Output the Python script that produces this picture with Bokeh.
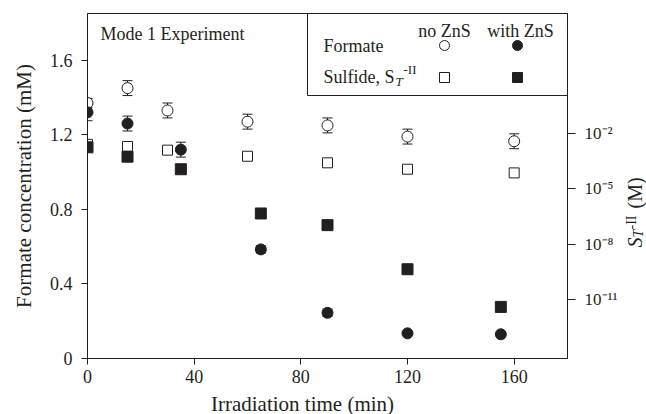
import math
from bokeh.plotting import figure
from bokeh.layouts import row, column
from bokeh.models import (Range1d, LogScale, LogAxis, FixedTicker, Whisker, TeeHead,
                          ColumnDataSource, Label, BoxAnnotation, CustomJSTickFormatter)
from bokeh.embed import file_html
from bokeh.resources import INLINE

# ---------------- data ----------------
time_no_zns = [0, 15, 30, 60, 90, 120, 160]
formate_no_zns = [1.37, 1.45, 1.33, 1.27, 1.25, 1.19, 1.165]
formate_no_zns_err = [0.025, 0.04, 0.04, 0.04, 0.04, 0.04, 0.04]
sulfide_no_zns = [2.6e-3, 2.0e-3, 1.26e-3, 5.9e-4, 2.6e-4, 1.17e-4, 7.4e-5]

time_zns = [0, 15, 35, 65, 90, 120, 155]
formate_zns = [1.32, 1.26, 1.12, 0.585, 0.245, 0.135, 0.13]
formate_zns_err = [0.045, 0.04, 0.04, 0.02, 0.02, 0.01, 0.01]
sulfide_zns = [1.8e-3, 5.6e-4, 1.17e-4, 4.7e-7, 1.1e-7, 4.5e-10, 4.1e-12]

x_ticks = [0, 40, 80, 120, 160]
y_ticks = [0, 0.4, 0.8, 1.2, 1.6]
s_ticks = [1e-2, 1e-5, 1e-8, 1e-11]

FONT = "Liberation Serif"
INK = "#231f20"

# ---------------- layout sizes ----------------
W, H = 646, 414
MAIN_W, MAIN_H = 622, 390          # main figure; right strip and bottom strip hold titles
FR_L, FR_R, FR_T, FR_B = 87, 567, 13, 358   # frame edges in page pixels
L, R, T, B = FR_L, MAIN_W - FR_R, FR_T, MAIN_H - FR_B
X0, X1 = 0, 180
Y0, Y1 = 0, 1.85

p = figure(width=MAIN_W, height=MAIN_H, output_backend="svg", toolbar_location=None,
           x_range=Range1d(X0, X1), y_range=Range1d(Y0, Y1),
           min_border_left=L, min_border_right=R, min_border_top=T, min_border_bottom=B,
           background_fill_color="white", border_fill_color="white")
p.extra_y_ranges = {"s": Range1d(10 ** -14.18, 10 ** 4.5)}
p.extra_y_scales = {"s": LogScale()}
p.xgrid.visible = False
p.ygrid.visible = False
p.outline_line_color = INK
p.outline_line_width = 1
p.outline_line_alpha = 1

fw, fh = FR_R - FR_L, FR_B - FR_T


def px2x(px):
    return X0 + (px - FR_L) * (X1 - X0) / fw


def py2y(py):
    return Y0 + (FR_B - py) * (Y1 - Y0) / fh


def style_axis(ax, out):
    ax.axis_line_color = INK
    ax.major_tick_line_color = INK
    ax.major_tick_in = 0
    ax.major_tick_out = out
    ax.minor_tick_line_color = None
    ax.major_label_text_font = FONT
    ax.major_label_text_color = INK
    ax.major_label_text_font_size = "18px"


p.xaxis.ticker = FixedTicker(ticks=x_ticks)
p.yaxis.ticker = FixedTicker(ticks=y_ticks)
style_axis(p.xaxis[0], 6)
style_axis(p.yaxis[0], 6)
p.xaxis.major_label_standoff = 5
p.yaxis.major_label_standoff = 9
p.yaxis.axis_label = "Formate concentration (mM)"
p.yaxis.axis_label_text_font = FONT
p.yaxis.axis_label_text_font_style = "normal"
p.yaxis.axis_label_text_font_size = "21px"
p.yaxis.axis_label_text_color = INK
p.yaxis.axis_label_standoff = 11

sup_js = """
const sup = {"-":"\u207b","0":"\u2070","1":"\u00b9","2":"\u00b2","3":"\u00b3","4":"\u2074",
             "5":"\u2075","6":"\u2076","7":"\u2077","8":"\u2078","9":"\u2079"};
const e = Math.round(Math.log10(tick));
return "10" + String(e).split("").map(c => sup[c]).join("");
"""
raxis = LogAxis(y_range_name="s", ticker=FixedTicker(ticks=s_ticks),
                formatter=CustomJSTickFormatter(code=sup_js))
style_axis(raxis, 8)
raxis.major_label_text_font_size = "17px"
raxis.major_label_standoff = 9
p.add_layout(raxis, "right")

# ---------------- data marks ----------------
src_no = ColumnDataSource(dict(
    t=time_no_zns, f=formate_no_zns,
    up=[v + e for v, e in zip(formate_no_zns, formate_no_zns_err)],
    lo=[v - e for v, e in zip(formate_no_zns, formate_no_zns_err)],
    s=sulfide_no_zns))
src_z = ColumnDataSource(dict(
    t=time_zns, f=formate_zns,
    up=[v + e for v, e in zip(formate_zns, formate_zns_err)],
    lo=[v - e for v, e in zip(formate_zns, formate_zns_err)],
    s=sulfide_zns))

for src in (src_no, src_z):
    p.add_layout(Whisker(source=src, base="t", upper="up", lower="lo", dimension="height",
                         line_color=INK, line_width=1,
                         upper_head=TeeHead(size=10, line_color=INK, line_width=1),
                         lower_head=TeeHead(size=10, line_color=INK, line_width=1)))

p.scatter("t", "s", source=src_no, y_range_name="s", marker="square", size=10,
          fill_color="white", line_color=INK, line_width=1)
p.scatter("t", "f", source=src_no, marker="circle", size=11,
          fill_color="white", line_color=INK, line_width=1)
p.scatter("t", "s", source=src_z, y_range_name="s", marker="square", size=11,
          fill_color=INK, line_color=INK)
p.scatter("t", "f", source=src_z, marker="circle", size=11,
          fill_color=INK, line_color=INK)

# ---------------- legend box (hand-built table) ----------------
p.add_layout(BoxAnnotation(left=px2x(307), right=px2x(567), bottom=py2y(95), top=py2y(13),
                           fill_color=None, line_color=INK, line_width=1, line_alpha=1))


def lab(fig, x, y, text, size="18px", align="left", angle=0, style="normal"):
    fig.add_layout(Label(x=x, y=y, text=text, text_font=FONT,
                         text_font_size=size, text_color=INK, text_align=align,
                         text_baseline="alphabetic", angle=angle, text_font_style=style))


# positions below are visual text centres in pixels
lab(p, px2x(100), py2y(33), "Mode 1 Experiment")
lab(p, px2x(444), py2y(30), "no ZnS", align="center")
lab(p, px2x(520), py2y(30), "with ZnS", align="center")
lab(p, px2x(323), py2y(45), "Formate")
lab(p, px2x(323), py2y(76), "Sulfide, S")
lab(p, px2x(395), py2y(81), "T", size="13px", style="italic")
lab(p, px2x(403), py2y(69), "-II", size="13px")

leg_x = [px2x(444), px2x(517)]
p.scatter(x=leg_x[:1], y=[py2y(45)], marker="circle", size=10, fill_color="white",
          line_color=INK)
p.scatter(x=leg_x[1:], y=[py2y(45)], marker="circle", size=10, fill_color=INK,
          line_color=INK)
p.scatter(x=leg_x[:1], y=[py2y(77)], marker="square", size=10, fill_color="white",
          line_color=INK)
p.scatter(x=leg_x[1:], y=[py2y(77)], marker="square", size=10, fill_color=INK,
          line_color=INK)

# ---------------- right strip: rotated title S_T^-II (M) ----------------
# frame of the strip spans the same rows as the main frame; data y = MAIN_H - page y
rs = figure(width=W - MAIN_W, height=MAIN_H, output_backend="svg", toolbar_location=None,
            x_range=Range1d(MAIN_W, W), y_range=Range1d(MAIN_H - FR_B, MAIN_H - FR_T),
            x_axis_location=None, y_axis_location=None,
            min_border_left=0, min_border_right=0, min_border_top=T, min_border_bottom=B,
            background_fill_color="white", border_fill_color="white")
rs.outline_line_color = None
rs.xgrid.visible = False
rs.ygrid.visible = False
A = math.pi / 2
lab(rs, 634, MAIN_H - 247, "S", size="20px", angle=A, style="italic")
lab(rs, 638, MAIN_H - 237, "T", size="14px", angle=A, style="italic")
lab(rs, 631, MAIN_H - 229, "-II", size="14px", angle=A)
lab(rs, 634, MAIN_H - 208, "(M)", size="20px", angle=A)

# ---------------- bottom strip: x title ----------------
bs = figure(width=W, height=H - MAIN_H, output_backend="svg", toolbar_location=None,
            x_range=Range1d(0, W), y_range=Range1d(0, H - MAIN_H),
            x_axis_location=None, y_axis_location=None, min_border=0,
            background_fill_color="white", border_fill_color="white")
bs.outline_line_color = None
bs.xgrid.visible = False
bs.ygrid.visible = False
lab(bs, 302, H - 403, "Irradiation time (min)", size="21px", align="center")

layout = column(row(p, rs, spacing=0), bs, spacing=0)
open("out.html", "w").write(file_html(layout, INLINE))
